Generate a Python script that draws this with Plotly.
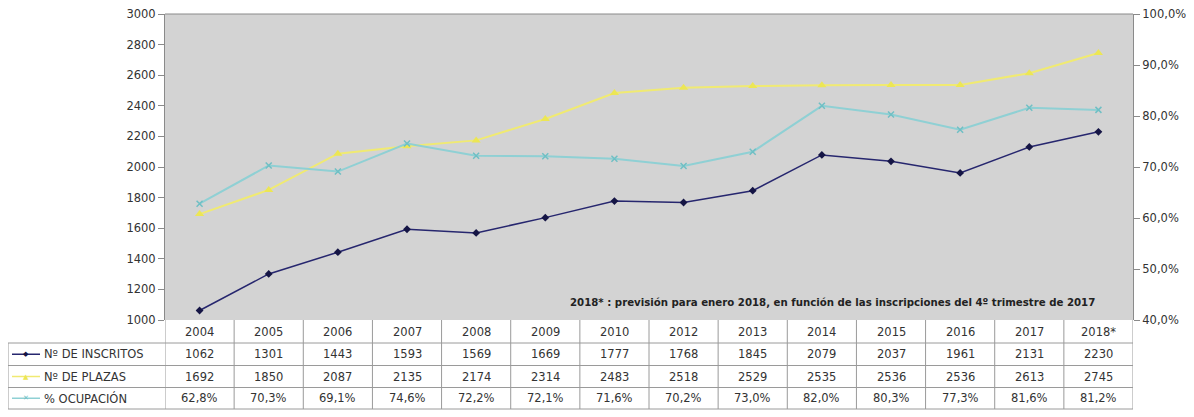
import plotly.graph_objects as go

years = ["2004", "2005", "2006", "2007", "2008", "2009", "2010", "2012",
         "2013", "2014", "2015", "2016", "2017", "2018*"]
inscritos = [1062, 1301, 1443, 1593, 1569, 1669, 1777, 1768, 1845, 2079, 2037, 1961, 2131, 2230]
plazas = [1692, 1850, 2087, 2135, 2174, 2314, 2483, 2518, 2529, 2535, 2536, 2536, 2613, 2745]
ocupacion = [62.8, 70.3, 69.1, 74.6, 72.2, 72.1, 71.6, 70.2, 73.0, 82.0, 80.3, 77.3, 81.6, 81.2]

series_names = ["Nº DE INSCRITOS", "Nº DE PLAZAS", "% OCUPACIÓN"]
note = "2018* : previsión para enero 2018, en función de las inscripciones del 4º trimestre de 2017"

NAVY = "#26266e"
YELLOW = "#f0ea72"
CYAN = "#8fd0d4"
FONT = "DejaVu Sans, Verdana, sans-serif"
TXT = "#333333"
GRID = "#9a9a9a"
AX = "#8a8a8a"

# page offset of the figure inside the browser (body margin)
OFF = 8
# target pixel geometry of the plot area
PL, PR, PT, PB = 165, 1133, 14, 320
W, H = 1194 - OFF, 417 - OFF
L, T = PL - OFF, PT - OFF
R = W - (PR - OFF)
B = H - (PB - OFF)
plot_w = PR - PL
plot_h = PB - PT


def py(p):
    return (PB - p) / plot_h


def px(p):
    return (p - PL) / plot_w


fig = go.Figure()
fig.add_trace(go.Scatter(x=years, y=inscritos, name=series_names[0], mode="lines+markers",
                         line=dict(color=NAVY, width=1.5),
                         marker=dict(symbol="diamond", size=6, color="#151545")))
fig.add_trace(go.Scatter(x=years, y=plazas, name=series_names[1], mode="lines+markers",
                         line=dict(color=YELLOW, width=2),
                         marker=dict(symbol="triangle-up", size=8, color="#ece654")))
fig.add_trace(go.Scatter(x=years, y=[v / 100 for v in ocupacion], name=series_names[2],
                         mode="lines+markers", yaxis="y2",
                         line=dict(color=CYAN, width=2),
                         marker=dict(symbol="x-thin", size=6, color="#6fbfc4",
                                     line=dict(width=1.5, color="#6fbfc4"))))

shapes = []
annotations = []

# table row boundaries (target pixel y)
row_edges = [320, 343, 365.5, 387.5, 409]
row_centers = [(row_edges[i] + row_edges[i + 1]) / 2 for i in range(4)]

# vertical column lines
for i in range(len(years) + 1):
    shapes.append(dict(type="line", xref="x", yref="paper", x0=i - 0.5, x1=i - 0.5,
                       y0=py(320), y1=py(409), line=dict(color=GRID, width=1)))
# leftmost border of header column
shapes.append(dict(type="line", xref="paper", yref="paper", x0=px(8), x1=px(8),
                   y0=py(343), y1=py(409), line=dict(color=GRID, width=1)))
# horizontal lines
for e in row_edges[1:]:
    shapes.append(dict(type="line", xref="paper", yref="paper", x0=px(8), x1=1,
                       y0=py(e), y1=py(e), line=dict(color=GRID, width=1)))

TS = 11.5
# year row
for i, yr in enumerate(years):
    annotations.append(dict(x=i, y=py(row_centers[0]), xref="x", yref="paper", text=yr,
                            xanchor="center", yanchor="middle",
                            showarrow=False, font=dict(size=TS, color=TXT, family=FONT)))

rows = [
    [str(v) for v in inscritos],
    [str(v) for v in plazas],
    [f"{v:.1f}%".replace(".", ",") for v in ocupacion],
]
colors = [NAVY, YELLOW, CYAN]
mcolors = ["#151545", "#ece654", "#6fbfc4"]
symbols = ["◆", "▲", "✕"]
for r, vals in enumerate(rows):
    yc = py(row_centers[r + 1])
    for i, t in enumerate(vals):
        annotations.append(dict(x=i, y=yc, xref="x", yref="paper", text=t, showarrow=False,
                                xanchor="center", yanchor="middle",
                                font=dict(size=TS, color=TXT, family=FONT)))
    # legend key
    shapes.append(dict(type="line", xref="paper", yref="paper", x0=px(12), x1=px(40),
                       y0=yc, y1=yc, line=dict(color=colors[r], width=1.5)))
    annotations.append(dict(x=px(26), y=yc, xref="paper", yref="paper", text=symbols[r],
                            xanchor="center", yanchor="middle",
                            showarrow=False, font=dict(size=7, color=mcolors[r], family="DejaVu Sans")))
    annotations.append(dict(x=px(42), y=yc, xref="paper", yref="paper", text=series_names[r],
                            xanchor="left", yanchor="middle", showarrow=False,
                            font=dict(size=11.5, color=TXT, family=FONT)))

annotations.append(dict(x=px(1097), y=py(302), xref="paper", yref="paper",
                        text="<b>" + note + "</b>", xanchor="right", yanchor="middle",
                        showarrow=False,
                        font=dict(size=10.2, color="#222222", family=FONT)))

fig.update_layout(
    template="none",
    width=W, height=H,
    margin=dict(l=L, r=R, t=T, b=B, pad=0, autoexpand=False),
    paper_bgcolor="white",
    plot_bgcolor="#d3d3d3",
    separators=",.",
    showlegend=False,
    font=dict(family=FONT, size=TS, color=TXT),
    xaxis=dict(type="category", range=[-0.5, len(years) - 0.5], showticklabels=False,
               ticks="", showgrid=False, zeroline=False, showline=False, fixedrange=True,
               automargin=False),
    yaxis=dict(range=[1000, 3000], dtick=200, showgrid=False, zeroline=False,
               showline=True, linecolor=AX, linewidth=1, mirror=False,
               ticks="outside", ticklen=6, tickcolor=AX, automargin=False,
               ticklabeloverflow="allow",
               tickfont=dict(size=TS, color=TXT, family=FONT)),
    yaxis2=dict(range=[0.4, 1.0], dtick=0.1, tickformat=".1%", overlaying="y", side="right",
                showgrid=False, zeroline=False, showline=True, linecolor=AX,
                ticks="outside", ticklen=6, tickcolor=AX, automargin=False,
                ticklabeloverflow="allow",
                tickfont=dict(size=TS, color=TXT, family=FONT)),
    shapes=shapes + [dict(type="line", xref="paper", yref="paper", x0=0, x1=1, y0=1, y1=1,
                          line=dict(color=AX, width=1))],
    annotations=annotations,
)

fig.write_html("out.html")
